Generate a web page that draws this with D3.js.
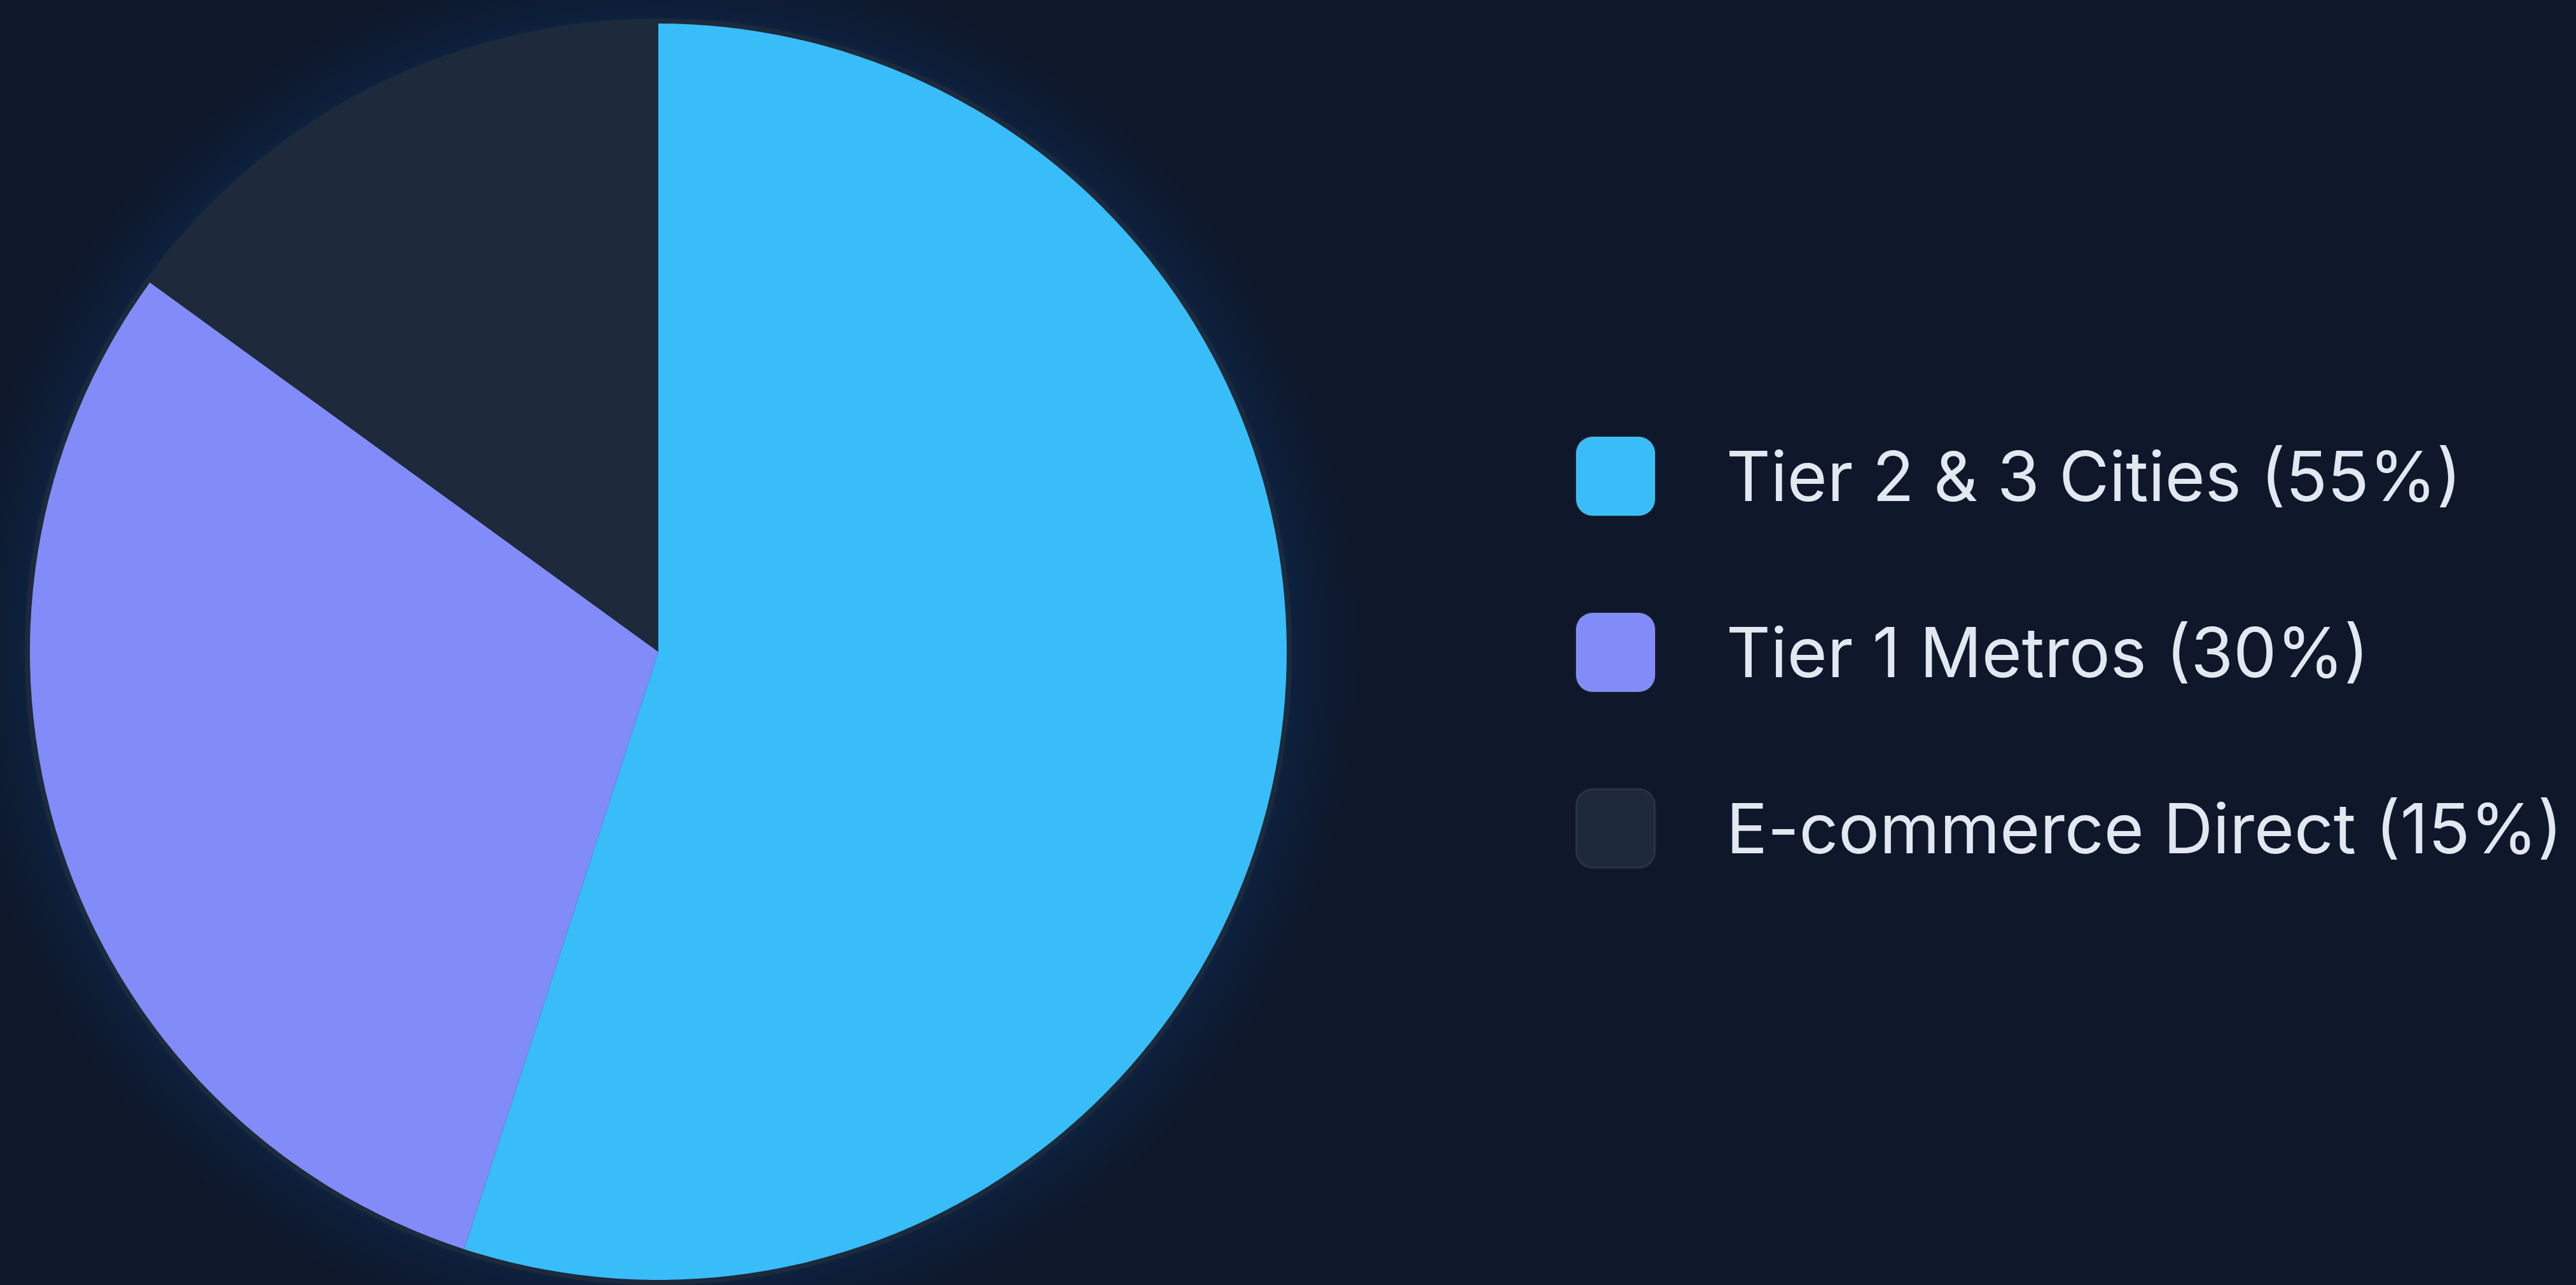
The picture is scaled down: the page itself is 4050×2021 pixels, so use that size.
<!DOCTYPE html>
<html>
<head>
<meta charset="utf-8">
<script src="https://cdn.jsdelivr.net/npm/d3@7"></script>
<style>
  html, body { margin: 0; padding: 0; background: #0f172a; overflow: hidden; }
  svg { display: block; }
</style>
</head>
<body>
<svg id="chart"></svg>
<script>
const width = 4050, height = 2021;

// data
const categories = ["Tier 2 & 3 Cities", "Tier 1 Metros", "E-commerce Direct"];
const shares = [55, 30, 15];
const colors = ["#38bdf8", "#818cf8", "#1e293b"];

const data = categories.map((c, i) => ({ name: c, value: shares[i], color: colors[i] }));

const svg = d3.select("#chart")
    .attr("width", width)
    .attr("height", height);

svg.append("rect")
    .attr("width", width)
    .attr("height", height)
    .attr("fill", "#0f172a");

// soft glow behind the pie
const defs = svg.append("defs");
const glow = defs.append("filter")
    .attr("id", "glow")
    .attr("x", "-30%").attr("y", "-30%")
    .attr("width", "160%").attr("height", "160%");
glow.append("feGaussianBlur")
    .attr("in", "SourceAlpha")
    .attr("stdDeviation", 70)
    .attr("result", "blur");
glow.append("feFlood").attr("flood-color", "#1e5aa8").attr("flood-opacity", 0.3);
glow.append("feComposite").attr("in2", "blur").attr("operator", "in").attr("result", "shadow");
const merge = glow.append("feMerge");
merge.append("feMergeNode").attr("in", "shadow");
merge.append("feMergeNode").attr("in", "SourceGraphic");

const cx = 1035, cy = 1025, radius = 988;

const pieGroup = svg.append("g")
    .attr("transform", `translate(${cx},${cy})`);

// outer ring
pieGroup.append("circle")
    .attr("r", radius + 8)
    .attr("fill", "#1e293b")
    .attr("filter", "url(#glow)");

const pie = d3.pie()
    .value(d => d.value)
    .sort(null);

const arc = d3.arc()
    .innerRadius(0)
    .outerRadius(radius);

pieGroup.selectAll("path.slice")
    .data(pie(data))
    .join("path")
    .attr("class", "slice")
    .attr("d", arc)
    .attr("fill", d => d.data.color);

// legend
const legendX = 2478, legendTop = 749, rowGap = 277, sw = 124;

const legend = svg.append("g")
    .selectAll("g.item")
    .data(data)
    .join("g")
    .attr("class", "item")
    .attr("transform", (d, i) => `translate(${legendX},${legendTop + i * rowGap})`);

legend.append("rect")
    .attr("x", 0)
    .attr("y", -sw / 2)
    .attr("width", sw)
    .attr("height", sw)
    .attr("rx", 26)
    .attr("fill", d => d.color)
    .attr("stroke", "rgba(255,255,255,0.08)")
    .attr("stroke-width", 3);

legend.append("text")
    .attr("x", 236)
    .attr("y", 0)
    .attr("dy", "0.36em")
    .attr("fill", "#e2e8f0")
    .style("font-family", "Inter, 'Noto Sans', sans-serif")
    .style("font-size", "108px")
    .text(d => `${d.name} (${d.value}%)`);
</script>
</body>
</html>
